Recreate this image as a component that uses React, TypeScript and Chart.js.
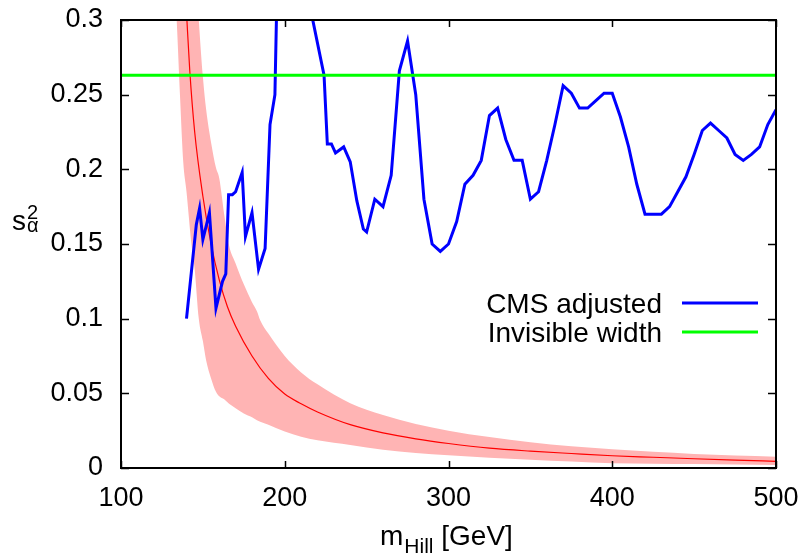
import React, { useEffect, useRef } from "react";
import { Chart, registerables } from "chart.js";
Chart.register(...registerables);

// CMS adjusted limit
const cmsMass = [140, 146, 148, 150, 154, 158, 162, 164, 165.7, 168, 170, 174, 176, 180, 184, 188, 191, 194, 196, 205, 213, 224, 226, 228.5, 231, 236, 240, 244, 248, 250, 255, 260, 265, 270, 275, 280, 285, 290, 295, 300, 305, 310, 315, 320, 325, 330, 335, 340, 345, 350, 355, 360, 365, 370, 375, 380, 385, 390, 395, 400, 405, 410, 415, 420, 430, 435, 440, 445, 450, 455, 460, 465, 470, 475, 480, 485, 490, 495, 500];
const cmsS2 = [0.1, 0.163, 0.174, 0.153, 0.171, 0.107, 0.125, 0.13, 0.183, 0.183, 0.185, 0.198, 0.155, 0.171, 0.133, 0.147, 0.23, 0.25, 0.36, 0.38, 0.322, 0.263, 0.217, 0.217, 0.211, 0.215, 0.205, 0.179, 0.16, 0.158, 0.18, 0.175, 0.196, 0.266, 0.286, 0.25, 0.18, 0.15, 0.145, 0.15, 0.165, 0.19, 0.196, 0.206, 0.236, 0.241, 0.22, 0.206, 0.206, 0.18, 0.185, 0.206, 0.23, 0.256, 0.251, 0.241, 0.241, 0.246, 0.251, 0.251, 0.235, 0.215, 0.19, 0.17, 0.17, 0.175, 0.185, 0.195, 0.21, 0.226, 0.231, 0.226, 0.221, 0.21, 0.206, 0.21, 0.215, 0.23, 0.24];

// Invisible width
const invisibleMass = [100, 500];
const invisibleS2 = [0.263, 0.263];

// central prediction
const centralMass = [138, 140, 142, 145, 150, 155, 160, 165, 170, 180, 190, 200, 210, 220, 240, 260, 280, 300, 325, 350, 375, 400, 425, 450, 475, 500];
const centralS2 = [0.345, 0.305, 0.266, 0.225, 0.182, 0.15, 0.126, 0.108, 0.095, 0.075, 0.06, 0.0495, 0.043, 0.0375, 0.029, 0.0235, 0.0195, 0.0164, 0.0133, 0.0113, 0.0097, 0.0082, 0.0072, 0.0062, 0.0053, 0.0045];

// uncertainty band
const bandMass = [132, 134, 136, 138, 140, 143, 145, 147.5, 150, 152, 155, 158, 160, 163, 166, 170, 175, 180, 183, 185, 190, 200, 210, 220, 240, 260, 280, 300, 325, 350, 375, 400, 425, 450, 475, 500];
const bandUpper = [0.8, 0.7, 0.6, 0.52, 0.46, 0.385, 0.345, 0.3, 0.262, 0.24, 0.218, 0.201, 0.194, 0.17, 0.149, 0.137, 0.123, 0.111, 0.105, 0.099, 0.09, 0.075, 0.064, 0.056, 0.0434, 0.0355, 0.0295, 0.025, 0.0207, 0.0172, 0.0145, 0.0125, 0.0108, 0.0094, 0.0084, 0.0076];
const bandLower = [0.34, 0.3, 0.25, 0.205, 0.185, 0.15, 0.133, 0.1, 0.085, 0.072, 0.06, 0.051, 0.048, 0.046, 0.043, 0.04, 0.0365, 0.034, 0.032, 0.031, 0.029, 0.0245, 0.021, 0.0185, 0.0154, 0.0122, 0.0101, 0.0086, 0.0069, 0.0055, 0.0043, 0.0032, 0.0029, 0.0026, 0.0023, 0.002];

const xTicks = [100, 200, 300, 400, 500];
const yTicks = [0, 0.05, 0.1, 0.15, 0.2, 0.25, 0.3];
const yTickLabels = ["0", "0.05", "0.1", "0.15", "0.2", "0.25", "0.3"];
const legendLabels = ["CMS adjusted", "Invisible width"];

const FONT = "'Liberation Sans', Arial, sans-serif";
const BLUE = "#0000ff";
const GREEN = "#00ff00";

const pts = (xs: number[], ys: number[]) => xs.map((x, i) => ({ x, y: ys[i] }));

const framePlugin = {
  id: "frame",
  afterDraw(chart: any) {
    const { ctx, chartArea: a, scales } = chart;
    const xs = scales.x, ys = scales.y;
    ctx.save();
    ctx.strokeStyle = "#000";
    ctx.lineWidth = 1.5;
    ctx.beginPath();
    xs.ticks.forEach((t: any) => {
      const px = Math.round(xs.getPixelForValue(t.value)) + 0.5;
      ctx.moveTo(px, a.bottom); ctx.lineTo(px, a.bottom - 7);
      ctx.moveTo(px, a.top); ctx.lineTo(px, a.top + 7);
    });
    ys.ticks.forEach((t: any) => {
      const py = Math.round(ys.getPixelForValue(t.value)) + 0.5;
      ctx.moveTo(a.left, py); ctx.lineTo(a.left + 8, py);
      ctx.moveTo(a.right, py); ctx.lineTo(a.right - 8, py);
    });
    ctx.stroke();
    ctx.lineWidth = 2;
    ctx.strokeRect(a.left, a.top, a.right - a.left, a.bottom - a.top);

    ctx.fillStyle = "#000";
    ctx.textAlign = "left";
    ctx.textBaseline = "alphabetic";
    ctx.font = `28px ${FONT}`;
    ctx.fillText("m", 380, 545);
    const mw = ctx.measureText("m").width;
    ctx.font = `21px ${FONT}`;
    ctx.fillText("Hill", 380 + mw + 1, 553);
    const hw = ctx.measureText("Hill").width;
    ctx.font = `28px ${FONT}`;
    ctx.fillText(" [GeV]", 380 + mw + 1 + hw, 545);

    ctx.font = `28px ${FONT}`;
    ctx.fillText("s", 12, 230);
    ctx.font = `20px ${FONT}`;
    ctx.fillText("2", 27, 219);
    ctx.fillText("\u03b1", 27, 232);

    ctx.font = `28px ${FONT}`;
    ctx.textAlign = "right";
    ctx.fillText(legendLabels[0], 662, 313);
    ctx.fillText(legendLabels[1], 662, 342);
    ctx.lineWidth = 3;
    ctx.strokeStyle = BLUE;
    ctx.beginPath(); ctx.moveTo(682, 303); ctx.lineTo(758, 303); ctx.stroke();
    ctx.strokeStyle = GREEN;
    ctx.beginPath(); ctx.moveTo(682, 332); ctx.lineTo(758, 332); ctx.stroke();
    ctx.restore();
  },
};

export default function App() {
  const ref = useRef<HTMLCanvasElement | null>(null);
  useEffect(() => {
    if (!ref.current) return;
    const chart = new Chart(ref.current, {
      type: "line",
      data: {
        datasets: [
          { label: legendLabels[1], data: pts(invisibleMass, invisibleS2), borderColor: GREEN, borderWidth: 3, pointRadius: 0, fill: false },
          { label: legendLabels[0], data: pts(cmsMass, cmsS2), borderColor: BLUE, borderWidth: 3, pointRadius: 0, fill: false, tension: 0 },
          { label: "central", data: pts(centralMass, centralS2), borderColor: "#ff0000", borderWidth: 1.2, pointRadius: 0, fill: false, cubicInterpolationMode: "monotone" },
          { label: "upper", data: pts(bandMass, bandUpper), borderWidth: 0, borderColor: "rgba(0,0,0,0)", backgroundColor: "#ffb4b4", pointRadius: 0, fill: "+1", cubicInterpolationMode: "monotone" },
          { label: "lower", data: pts(bandMass, bandLower), borderWidth: 0, borderColor: "rgba(0,0,0,0)", pointRadius: 0, fill: false, cubicInterpolationMode: "monotone" },
        ],
      } as any,
      options: {
        animation: false,
        responsive: false,
        devicePixelRatio: 1,
        layout: { padding: { left: 0, right: 30, top: 20, bottom: 0 } },
        plugins: { legend: { display: false }, tooltip: { enabled: false } },
        scales: {
          x: {
            type: "linear",
            min: 100,
            max: 500,
            afterBuildTicks: (s: any) => { s.ticks = xTicks.map((v) => ({ value: v })); },
            afterFit: (s: any) => { s.height = 88; s.paddingLeft = 0; s.paddingRight = 0; },
            grid: { display: false, drawTicks: false },
            border: { display: false },
            ticks: { color: "#000", padding: 14, maxRotation: 0, autoSkip: false, font: { family: FONT, size: 27 }, callback: (v: any) => String(v) },
          },
          y: {
            type: "linear",
            min: 0,
            max: 0.3,
            afterBuildTicks: (s: any) => { s.ticks = yTicks.map((v) => ({ value: v })); },
            afterFit: (s: any) => { s.width = 121; s.paddingTop = 0; s.paddingBottom = 0; },
            grid: { display: false, drawTicks: false },
            border: { display: false },
            ticks: { color: "#000", padding: 18, autoSkip: false, font: { family: FONT, size: 27 }, callback: (_v: any, i: number) => yTickLabels[i] },
          },
        },
      } as any,
      plugins: [framePlugin],
    });
    return () => chart.destroy();
  }, []);
  return (
    <div style={{ position: "fixed", left: 0, top: 0, width: 806, height: 556, background: "#fff" }}>
      <canvas ref={ref} width={806} height={556} style={{ display: "block" }} />
    </div>
  );
}
